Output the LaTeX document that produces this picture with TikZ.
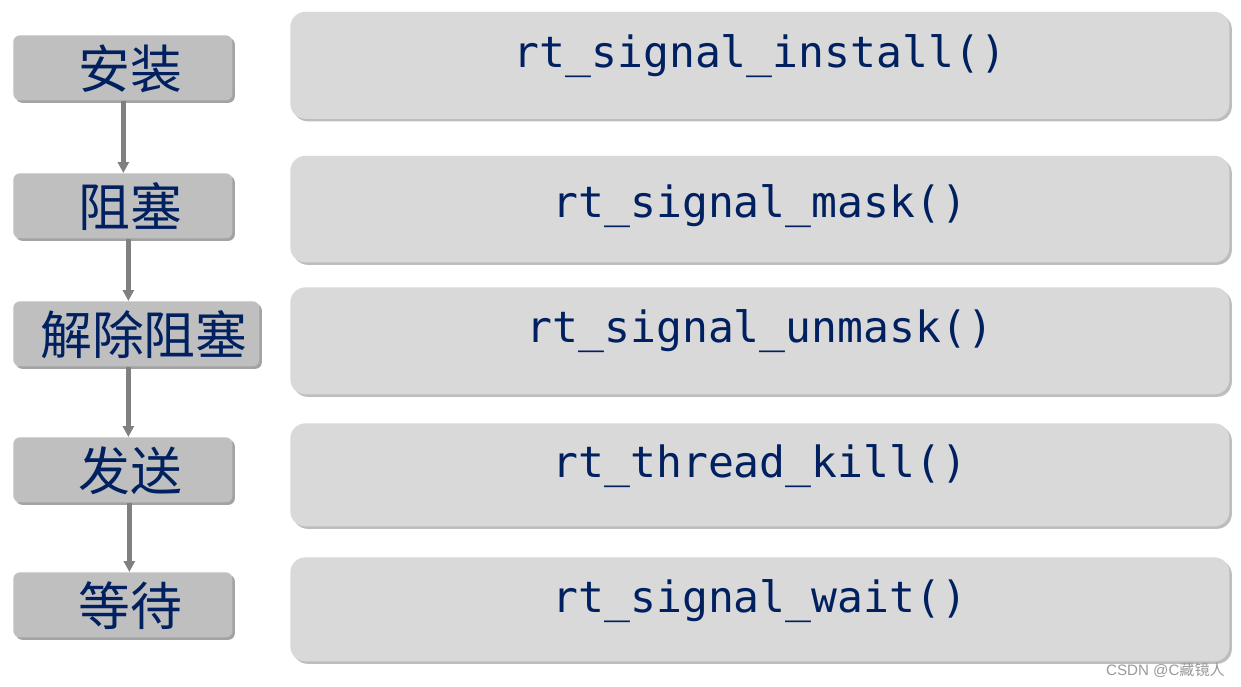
\documentclass[tikz,border=0pt]{standalone}
\usepackage{fontspec}
\setmonofont{DejaVu Sans Mono}
\setsansfont{Liberation Sans}
\newfontfamily\cjk{Noto Sans CJK SC}
\usetikzlibrary{shadows,arrows.meta}
\definecolor{navy}{HTML}{002060}
\definecolor{stagefill}{HTML}{BFBFBF}
\definecolor{stageshade}{HTML}{A3A3A3}
\definecolor{funcfill}{HTML}{D9D9D9}
\definecolor{funcshade}{HTML}{BDBDBD}
\definecolor{arrowgray}{HTML}{808080}
\begin{document}
\begin{tikzpicture}[
    stage/.style={rectangle, rounded corners=0.13cm, fill=stagefill, anchor=north west,
        minimum width=4.38cm, minimum height=1.3cm, inner sep=0pt, text=navy,
        text height=1.07cm, text depth=0.23cm,
        font=\cjk\fontsize{29.5}{31}\selectfont, execute at begin node=\hspace*{0.3cm},
        drop shadow={shadow xshift=0.05cm, shadow yshift=-0.05cm, opacity=1, fill=stageshade}},
    func/.style={rectangle, rounded corners=0.3cm, fill=funcfill, anchor=north west,
        minimum width=18.78cm, inner sep=0pt, text=navy,
        font=\ttfamily\fontsize{24.5}{28}\selectfont,
        drop shadow={shadow xshift=0.05cm, shadow yshift=-0.05cm, opacity=1, fill=funcshade}},
    flow/.style={-{Triangle[width=0.22cm,length=0.22cm]}, line width=2.5pt, arrowgray}
]
\useasboundingbox (0,0) rectangle (24.82,-13.74);

% Stages
\node[stage] (ins) at (0.26,-0.70) {安装};
\node[stage] (blk) at (0.26,-3.46) {阻塞};
\node[stage, minimum width=4.92cm] (unblk) at (0.26,-6.02) {解除阻塞};
\node[stage] (snd) at (0.26,-8.74) {发送};
\node[stage] (wt) at (0.26,-11.44) {等待};

% Function boxes
\node[func, text height=1.11cm, text depth=1.03cm] (f1) at (5.8,-0.23) {rt\_signal\_install()};
\node[func, text height=1.23cm, text depth=0.90cm] (f2) at (5.8,-3.11) {rt\_signal\_mask()};
\node[func, text height=1.10cm, text depth=1.04cm] (f3) at (5.8,-5.74) {rt\_signal\_unmask()};
\node[func, text height=1.08cm, text depth=0.98cm] (f4) at (5.8,-8.46) {rt\_thread\_kill()};
\node[func, text height=1.10cm, text depth=0.98cm] (f5) at (5.8,-11.14) {rt\_signal\_wait()};

% Arrows between stages
\draw[flow] ([xshift=0.01cm]ins.south) -- ([xshift=0.01cm]ins.south |- blk.north);
\draw[flow] ([xshift=0.11cm]blk.south) -- ([xshift=0.11cm]blk.south |- unblk.north);
\draw[flow] ([xshift=-0.16cm]unblk.south) -- ([xshift=-0.16cm]unblk.south |- snd.north);
\draw[flow] ([xshift=0.13cm]snd.south) -- ([xshift=0.13cm]snd.south |- wt.north);

% Watermark
\node[anchor=base east, text=black!40, font=\sffamily\fontsize{8.6}{10}\selectfont] (mark) at (24.62,-13.5) {CSDN @C{\cjk 藏镜人}};
\end{tikzpicture}
\end{document}
